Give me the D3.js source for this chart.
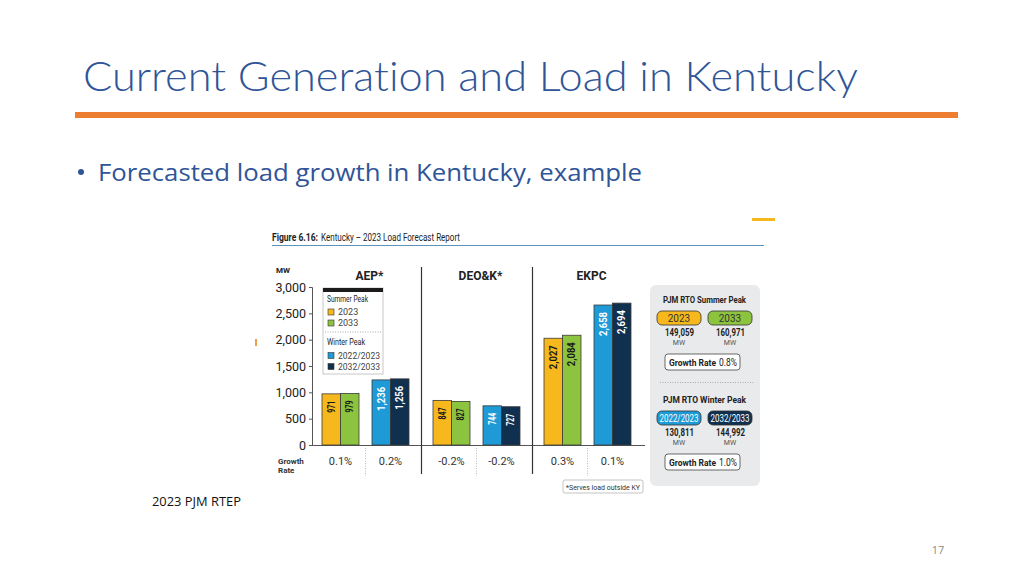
<!DOCTYPE html>
<html>
<head>
<meta charset="utf-8">
<script src="https://cdn.jsdelivr.net/npm/d3@7"></script>
<style>
  html, body { margin: 0; padding: 0; background: #fff; }
  svg { display: block; }
  text { font-variant-ligatures: none; }
</style>
</head>
<body>
<svg id="chart" width="1024" height="576"></svg>
<script>
// ---------------- data ----------------
const companies = ["AEP*", "DEO&K*", "EKPC"];
const seasons = ["Summer Peak", "Winter Peak"];
const seriesNames = ["2023", "2033", "2022/2023", "2032/2033"];
const summer2023 = [971, 847, 2027];
const summer2033 = [979, 827, 2084];
const winter2223 = [1236, 744, 2658];
const winter3233 = [1256, 727, 2694];
const growthSummer = ["0.1%", "-0.2%", "0.3%"];
const growthWinter = ["0.2%", "-0.2%", "0.1%"];
const yTicks = [0, 500, 1000, 1500, 2000, 2500, 3000];
const pjmSummerYears = ["2023", "2033"];
const pjmSummerValues = [149059, 160971];
const pjmSummerGrowth = "0.8%";
const pjmWinterYears = ["2022/2023", "2032/2033"];
const pjmWinterValues = [130811, 144992];
const pjmWinterGrowth = "1.0%";

const titleText = "Current Generation and Load in Kentucky";
const bulletText = "Forecasted load growth in Kentucky, example";
const figureCaption = ["Figure 6.16:", "Kentucky – 2023 Load Forecast Report"];
const sourceText = "2023 PJM RTEP";
const pageNumber = "17";

// ---------------- styles ----------------
const colors = ["#F6B81C", "#8CC43F", "#1E9AD6", "#10304F"];
const labelColors = ["#1a1a1a", "#1a1a1a", "#ffffff", "#ffffff"];
const COND = 'Roboto, "Liberation Sans Narrow", sans-serif';

const svg = d3.select("#chart");

// text helper that fits a string into a given width
function fit(sel, w) {
  return sel.attr("textLength", w).attr("lengthAdjust", "spacingAndGlyphs");
}

// ---------------- slide chrome ----------------
fit(svg.append("text")
  .attr("x", 83).attr("y", 91)
  .attr("font-family", 'Lato, "Open Sans", sans-serif')
  .attr("font-weight", 300)
  .attr("font-size", 42)
  .attr("fill", "#2F5597")
  .text(titleText), 775);

svg.append("rect").attr("x", 75).attr("y", 112).attr("width", 883).attr("height", 6).attr("fill", "#ED7D31");

svg.append("circle").attr("cx", 81).attr("cy", 172).attr("r", 3).attr("fill", "#2F5597");
fit(svg.append("text")
  .attr("x", 98).attr("y", 181)
  .attr("font-family", '"Open Sans", sans-serif')
  .attr("font-size", 24)
  .attr("fill", "#2F5597")
  .text(bulletText), 544);

fit(svg.append("text")
  .attr("x", 152).attr("y", 506)
  .attr("font-family", '"Open Sans", sans-serif')
  .attr("font-size", 12)
  .attr("fill", "#111")
  .text(sourceText), 89);

svg.append("text")
  .attr("x", 938).attr("y", 554)
  .attr("text-anchor", "middle")
  .attr("font-family", '"Open Sans", sans-serif')
  .attr("font-size", 11)
  .attr("fill", "#8a8a8a")
  .text(pageNumber);

// small decorative marks
svg.append("rect").attr("x", 255).attr("y", 339).attr("width", 2).attr("height", 7).attr("fill", "#E8A050");
svg.append("rect").attr("x", 752).attr("y", 218).attr("width", 23).attr("height", 3).attr("fill", "#F6B81C");

// ---------------- figure ----------------
const fig = svg.append("g").attr("font-family", COND);

fit(fig.append("text").attr("x", 272).attr("y", 241).attr("font-size", 10).attr("font-weight", "bold")
  .attr("fill", "#1d1d1d").text(figureCaption[0]), 46);
fit(fig.append("text").attr("x", 321).attr("y", 241).attr("font-size", 10)
  .attr("fill", "#1d1d1d").text(figureCaption[1]), 139);
fig.append("line").attr("x1", 272).attr("x2", 764).attr("y1", 245.5).attr("y2", 245.5)
  .attr("stroke", "#5C93BA").attr("stroke-width", 1.2);

// scales
const y = d3.scaleLinear().domain([0, 3000]).range([445, 287]);
const x0 = d3.scaleBand().domain(companies).range([310, 643]);
const xs = d3.scaleBand().domain(seasons).range([0, x0.bandwidth()]).paddingInner(0.26).paddingOuter(0.24);
const xy = d3.scaleBand().domain([0, 1]).range([0, xs.bandwidth()]);

// y axis
const yAxis = d3.axisLeft(y).tickValues(yTicks).tickSize(3).tickFormat(d3.format(","));
const ya = fig.append("g").attr("transform", "translate(312,0)").call(yAxis);
ya.select(".domain").attr("stroke", "#555").attr("d", "M-3,287.5H0.5V445.5");
ya.selectAll(".tick line").attr("stroke", "#555");
ya.selectAll(".tick text").attr("font-family", COND).attr("font-size", 12.5).attr("fill", "#222").attr("x", -6);

fig.append("text").attr("x", 276).attr("y", 273).attr("font-size", 8).attr("font-weight", "bold").attr("fill", "#222").text("MW");

// baseline
fig.append("line").attr("x1", 312).attr("x2", 645).attr("y1", 445.5).attr("y2", 445.5).attr("stroke", "#555").attr("stroke-width", 1);

// company dividers
[companies[1], companies[2]].forEach(c => {
  fig.append("line").attr("x1", x0(c) + 0.5).attr("x2", x0(c) + 0.5).attr("y1", 267).attr("y2", 474)
    .attr("stroke", "#333").attr("stroke-width", 1.2);
});

// company labels
fig.selectAll(".comp").data(companies).join("text")
  .attr("x", d => x0(d) + x0.bandwidth() / 2 + 4)
  .attr("y", 280)
  .attr("text-anchor", "middle")
  .attr("font-size", 12).attr("font-weight", "bold").attr("fill", "#222")
  .text(d => d);

// bars
const barData = [];
companies.forEach((c, i) => {
  const vals = [[summer2023[i], summer2033[i]], [winter2223[i], winter3233[i]]];
  seasons.forEach((s, si) => {
    vals[si].forEach((v, yi) => {
      barData.push({ c, s, yi, v, k: si * 2 + yi });
    });
  });
});

const bars = fig.append("g").selectAll("g").data(barData).join("g")
  .attr("transform", d => `translate(${x0(d.c) + xs(d.s) + xy(d.yi)},0)`);
bars.append("rect")
  .attr("x", 0).attr("y", d => y(d.v))
  .attr("width", xy.bandwidth()).attr("height", d => y(0) - y(d.v))
  .attr("fill", d => colors[d.k])
  .attr("stroke", "#3a3a3a").attr("stroke-width", 0.8);
bars.append("text")
  .attr("transform", d => `translate(${xy.bandwidth() / 2 + 3.5},${y(d.v) + 7}) rotate(-90)`)
  .attr("text-anchor", "end")
  .attr("font-size", 10).attr("font-weight", "bold")
  .attr("fill", d => labelColors[d.k])
  .attr("textLength", d => d.v >= 1000 ? 24 : 12).attr("lengthAdjust", "spacingAndGlyphs")
  .text(d => d3.format(",")(d.v));

// growth rate row
fig.append("text").attr("x", 278).attr("y", 464).attr("font-size", 8).attr("font-weight", "bold").attr("fill", "#333").text("Growth");
fig.append("text").attr("x", 278).attr("y", 473).attr("font-size", 8).attr("font-weight", "bold").attr("fill", "#333").text("Rate");

companies.forEach((c, i) => {
  [growthSummer[i], growthWinter[i]].forEach((g, si) => {
    fig.append("text")
      .attr("x", x0(c) + xs(seasons[si]) + xs.bandwidth() / 2)
      .attr("y", 465).attr("text-anchor", "middle")
      .attr("font-size", 11).attr("fill", "#333").text(g);
  });
  const mid = x0(c) + (xs(seasons[0]) + xs.bandwidth() + xs(seasons[1])) / 2;
  fig.append("line").attr("x1", mid).attr("x2", mid).attr("y1", 448).attr("y2", 476)
    .attr("stroke", "#aaa").attr("stroke-width", 0.8).attr("stroke-dasharray", "1,1.5");
});

// legend
const lg = fig.append("g").attr("transform", "translate(323,288)");
lg.append("rect").attr("x", 0).attr("y", 0).attr("width", 60).attr("height", 86).attr("fill", "#fff").attr("stroke", "#c8c8c8");
lg.append("rect").attr("x", 0).attr("y", 0).attr("width", 60).attr("height", 4).attr("fill", "#1b1b1b");
fit(lg.append("text").attr("x", 4).attr("y", 14).attr("font-size", 9).attr("fill", "#222").text(seasons[0]), 41);
fit(lg.append("text").attr("x", 4).attr("y", 57).attr("font-size", 9).attr("fill", "#222").text(seasons[1]), 38);
lg.append("line").attr("x1", 2).attr("x2", 58).attr("y1", 44).attr("y2", 44).attr("stroke", "#aaa").attr("stroke-dasharray", "1,1.5");
const legYs = [21, 32, 64.5, 75.5];
seriesNames.forEach((n, i) => {
  lg.append("rect").attr("x", 5).attr("y", legYs[i]).attr("width", 6).attr("height", 6)
    .attr("fill", colors[i]).attr("stroke", "#333").attr("stroke-width", 0.6);
  const t = lg.append("text").attr("x", 15).attr("y", legYs[i] + 6).attr("font-size", 9).attr("fill", "#444").text(n);
  if (n.length > 4) fit(t, 42);
});

// footnote
fig.append("rect").attr("x", 563).attr("y", 480).attr("width", 80).attr("height", 13).attr("rx", 2)
  .attr("fill", "#fff").attr("stroke", "#aaa").attr("stroke-width", 0.7);
fit(fig.append("text").attr("x", 566).attr("y", 489.5).attr("font-size", 7).attr("fill", "#333").text("*Serves load outside KY"), 74);

// ---------------- PJM panel ----------------
const pn = fig.append("g");
pn.append("rect").attr("x", 650).attr("y", 285).attr("width", 110).attr("height", 201).attr("rx", 6).attr("fill", "#E9EAEC");

function pjmBlock(top, titleStr, years, vals, growth, fills, textFills) {
  fit(pn.append("text").attr("x", 663).attr("y", top + 18)
    .attr("font-size", 9).attr("font-weight", "bold").attr("fill", "#222").text(titleStr), 83);
  const cx = [679, 730];
  years.forEach((yr, i) => {
    pn.append("rect").attr("x", cx[i] - 22).attr("y", top + 26).attr("width", 44).attr("height", 14).attr("rx", 5)
      .attr("fill", fills[i]).attr("stroke", "#333").attr("stroke-width", 0.8);
    const yt = pn.append("text").attr("x", cx[i]).attr("y", top + 37).attr("text-anchor", "middle")
      .attr("font-size", 10).attr("fill", textFills[i]).text(yr);
    if (yr.length > 4) fit(yt, 39);
    fit(pn.append("text").attr("x", cx[i] - 14).attr("y", top + 51)
      .attr("font-size", 10.5).attr("font-weight", "bold").attr("fill", "#222").text(d3.format(",")(vals[i])), 29);
    pn.append("text").attr("x", cx[i]).attr("y", top + 60).attr("text-anchor", "middle")
      .attr("font-size", 7).attr("fill", "#555").text("MW");
  });
  pn.append("rect").attr("x", 665).attr("y", top + 69).attr("width", 75).attr("height", 16).attr("rx", 3)
    .attr("fill", "#fff").attr("stroke", "#444").attr("stroke-width", 0.8);
  fit(pn.append("text").attr("x", 669).attr("y", top + 81).attr("font-size", 9.5).attr("font-weight", "bold")
    .attr("fill", "#222").text("Growth Rate"), 47);
  fit(pn.append("text").attr("x", 719).attr("y", top + 81).attr("font-size", 10.5)
    .attr("fill", "#222").text(growth), 18);
}
pjmBlock(285, "PJM RTO Summer Peak", pjmSummerYears, pjmSummerValues, pjmSummerGrowth, [colors[0], colors[1]], ["#333", "#333"]);
pn.append("line").attr("x1", 660).attr("x2", 754).attr("y1", 382.5).attr("y2", 382.5).attr("stroke", "#aaa").attr("stroke-dasharray", "1,1.5");
pjmBlock(385, "PJM RTO Winter Peak", pjmWinterYears, pjmWinterValues, pjmWinterGrowth, [colors[2], colors[3]], ["#fff", "#fff"]);
</script>
</body>
</html>
